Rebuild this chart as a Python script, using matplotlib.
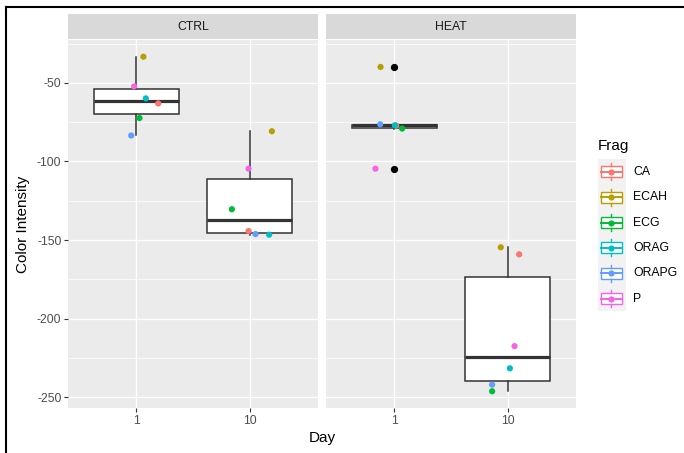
import matplotlib
matplotlib.use("Agg")
import matplotlib.pyplot as plt
import numpy as np
from matplotlib.lines import Line2D
from matplotlib.patches import Rectangle

plt.rcParams["font.family"] = ["Liberation Sans", "DejaVu Sans"]
plt.rcParams["axes.unicode_minus"] = False

# data
frags = ["CA", "ECAH", "ECG", "ORAG", "ORAPG", "P"]
frag_colors = ["#F8766D", "#B79F00", "#00BA38", "#00BFC4", "#619CFF", "#F564E3"]
days = ["1", "10"]
treatments = ["CTRL", "HEAT"]

ctrl_day1 = [-63.1, -33.4, -72.4, -59.9, -83.5, -52.3]
ctrl_day10 = [-144.3, -80.8, -130.4, -146.6, -146.2, -104.6]
heat_day1 = [-77.2, -39.9, -79.1, -77.0, -76.4, -104.6]
heat_day10 = [-159.1, -154.6, -246.2, -231.6, -242.0, -217.5]

# horizontal jitter of each point (in category units)
ctrl_day1_jit = [0.194, 0.064, 0.029, 0.085, -0.044, -0.018]
ctrl_day10_jit = [-0.011, 0.194, -0.158, 0.17, 0.05, -0.011]
heat_day1_jit = [0.018, -0.12, 0.07, 0.006, -0.123, -0.165]
heat_day10_jit = [0.1, -0.062, -0.138, 0.018, -0.138, 0.059]

panels = {
    "CTRL": ([ctrl_day1, ctrl_day10], [ctrl_day1_jit, ctrl_day10_jit]),
    "HEAT": ([heat_day1, heat_day10], [heat_day1_jit, heat_day10_jit]),
}

W, H = 684, 453
fig = plt.figure(figsize=(W / 100, H / 100), dpi=100)


def px_rect(x0, y0, x1, y1):
    """Pixel box (top-left origin) -> figure fraction rect."""
    return [x0 / W, 1 - y1 / H, (x1 - x0) / W, (y1 - y0) / H]


all_vals = np.concatenate([ctrl_day1, ctrl_day10, heat_day1, heat_day10])
span = all_vals.max() - all_vals.min()
ylim = (all_vals.min() - 0.05 * span, all_vals.max() + 0.05 * span)

panel_x = {"CTRL": (68, 318), "HEAT": (326, 576)}
GREY_TXT = "#4D4D4D"
DARK = "#333333"

for i, name in enumerate(treatments):
    x0, x1 = panel_x[name]
    ax = fig.add_axes(px_rect(x0, 40, x1, 408))
    ax.set_facecolor("#EBEBEB")
    for s in ax.spines.values():
        s.set_visible(False)

    vals, jits = panels[name]
    ax.boxplot(vals, positions=[1, 2], widths=0.75, patch_artist=True,
               showcaps=False, whis=1.5, manage_ticks=False,
               boxprops=dict(facecolor="white", edgecolor=DARK, lw=1.1),
               whiskerprops=dict(color=DARK, lw=1.1),
               medianprops=dict(color=DARK, lw=2.3),
               flierprops=dict(marker="o", markerfacecolor="black",
                               markeredgecolor="black", markersize=4.2))
    for pos, (v, j) in enumerate(zip(vals, jits), start=1):
        xs = pos + np.array(j)
        ax.scatter(xs, v, c=frag_colors, s=20, zorder=5, linewidths=0)

    ax.set_xlim(0.4, 2.6)
    ax.set_ylim(*ylim)
    ax.set_yticks([-250, -200, -150, -100, -50])
    ax.set_yticks([-225, -175, -125, -75, -25], minor=True)
    ax.set_xticks([1, 2])
    ax.set_xticklabels(days)
    ax.grid(which="major", color="white", lw=1.0)
    ax.grid(which="minor", axis="y", color="white", lw=0.5)
    ax.set_axisbelow(True)
    ax.tick_params(axis="both", which="major", length=2.7, width=0.8,
                   color=DARK, labelcolor=GREY_TXT, labelsize=8.8, pad=2)
    ax.tick_params(axis="y", which="minor", length=0)
    if i == 0:
        ax.set_ylabel("Color Intensity", fontsize=11, labelpad=5)
    else:
        ax.tick_params(axis="y", which="major", length=0, labelleft=False)

    strip = fig.add_axes(px_rect(x0, 14, x1, 39))
    strip.set_facecolor("#D9D9D9")
    strip.set_xticks([])
    strip.set_yticks([])
    for s in strip.spines.values():
        s.set_visible(False)
    strip.text(0.5, 0.5, name, ha="center", va="center", fontsize=8.8,
               color="#1A1A1A", transform=strip.transAxes)

# overlay in pixel coordinates for shared labels, legend and frame
ov = fig.add_axes([0, 0, 1, 1])
ov.set_xlim(0, W)
ov.set_ylim(H, 0)
ov.axis("off")
ov.patch.set_alpha(0)

ov.text(322, 438, "Day", ha="center", va="center", fontsize=11)

ov.text(598, 146, "Frag", ha="left", va="center", fontsize=11)
key_top, key_h = 159, 25.4
ov.add_patch(Rectangle((598, key_top), 28, key_h * len(frags),
                       facecolor="#F2F2F2", edgecolor="none"))
for k, (lab, col) in enumerate(zip(frags, frag_colors)):
    cy = key_top + key_h * (k + 0.5)
    ov.add_patch(Rectangle((600.5, cy - 5.5), 21, 11, facecolor="white",
                           edgecolor=col, lw=1.0))
    ov.plot([611, 611], [cy - 8.5, cy - 5.5], color=col, lw=1.0)
    ov.plot([611, 611], [cy + 5.5, cy + 8.5], color=col, lw=1.0)
    ov.plot([600.5, 621.5], [cy, cy], color=col, lw=1.4)
    ov.scatter([611], [cy], color=col, s=20, zorder=5, linewidths=0)
    ov.text(633, cy, lab, ha="left", va="center", fontsize=8.8)

ov.add_artist(Line2D([6, W], [7, 7], color="black", lw=1.5))
ov.add_artist(Line2D([6, 6], [7, H], color="black", lw=1.5))

fig.savefig("out.png", dpi=100)
